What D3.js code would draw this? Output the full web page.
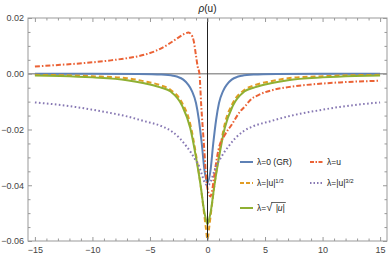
<!DOCTYPE html>
<html><head><meta charset="utf-8">
<script src="https://cdn.jsdelivr.net/npm/d3@7"></script>
<style>body{margin:0;background:#fff}svg{display:block}text{font-family:"Liberation Sans",Arial,sans-serif}</style>
</head><body><svg id="c" width="390" height="256"></svg>
<script>
const xTicks=[-15,-10,-5,0,5,10,15];
const yTicks=[0.02,0,-0.02,-0.04,-0.06];
const labels=["λ=0 (GR)","λ=|u|^1/3","λ=√|u|","λ=u","λ=|u|^3/2"];
// data
const uBlue=[-15,-10,-6,-4,-3,-2.6,-2.1,-1.7,-1.35,-1,-0.75,-0.5,-0.25,0,0.25,0.5,0.75,1,1.35,1.7,2.1,2.6,3,4,6,10,15];
const vBlue=[0,0,-0.0001,-0.0003,-0.0007,-0.0011,-0.0021,-0.0038,-0.0062,-0.0105,-0.0165,-0.025,-0.035,-0.039,-0.035,-0.025,-0.0165,-0.0105,-0.0062,-0.0038,-0.0021,-0.0011,-0.0007,-0.0003,-0.0001,0,0];
const uSym=[0,0.15,0.3,0.6,1,1.5,2.2,3.2,4.1,5.5,7,10,12.8,15];
const vOrangeHalf=[-0.0595,-0.055,-0.050,-0.040,-0.029,-0.018,-0.0105,-0.0058,-0.0041,-0.0027,-0.0016,-0.0009,-0.0005,-0.0004];
const vGreenHalf=[-0.054,-0.052,-0.049,-0.040,-0.030,-0.0195,-0.0115,-0.0064,-0.0049,-0.0034,-0.0023,-0.0013,-0.0008,-0.0006];
const uRed=[-15,-12.8,-10,-8.4,-7,-5.5,-4.5,-3.4,-2.6,-2,-1.65,-1.4,-1.2,-1,-0.85,-0.7,-0.55,-0.3,-0.1,0.1,0.25,0.4,0.6,0.95,1.5,2.1,2.84,3.3,3.7,4.5,5.7,7,8.6,10,11.5,13,15];
const vRed=[0.0026,0.0032,0.0041,0.0048,0.0056,0.0068,0.0082,0.0106,0.0128,0.0143,0.0148,0.0140,0.0118,0.0065,0.0025,0,-0.011,-0.026,-0.038,-0.043,-0.044,-0.042,-0.036,-0.0273,-0.022,-0.0183,-0.0135,-0.0115,-0.0095,-0.0075,-0.0058,-0.0048,-0.0040,-0.0035,-0.0031,-0.0028,-0.0025];
const uPurpleHalf=[0,0.25,0.5,0.75,1.05,1.4,1.8,2.4,3.1,4,5.5,7,8.5,10,11.5,13,15];
const vPurpleHalf=[-0.040,-0.039,-0.036,-0.033,-0.0309,-0.0285,-0.0262,-0.0232,-0.0207,-0.0188,-0.0170,-0.0153,-0.0140,-0.0129,-0.0119,-0.0111,-0.0103];

function sym(us,vs){const a=[];for(let i=us.length-1;i>0;i--)a.push([-us[i],vs[i]]);for(let i=0;i<us.length;i++)a.push([us[i],vs[i]]);return a;}
const series=[
 {pts:uBlue.map((u,i)=>[u,vBlue[i]]),color:"#5E81B5",dash:null,curve:d3.curveMonotoneX},
 {pts:sym(uSym,vOrangeHalf),color:"#E19C24",dash:"5,3",curve:d3.curveMonotoneX},
 {pts:sym(uSym,vGreenHalf),color:"#8FB032",dash:null,curve:d3.curveMonotoneX},
 {pts:uRed.map((u,i)=>[u,vRed[i]]),color:"#EB6235",dash:"5,2,1.5,2",curve:d3.curveMonotoneX},
 {pts:sym(uPurpleHalf,vPurpleHalf),color:"#8778B3",dash:"1.6,2.4",curve:d3.curveMonotoneX}
];

const L=28,R=387,T=18,B=241;
const x=d3.scaleLinear().domain([-15.6,15.6]).range([L,R]);
const y=d3.scaleLinear().domain([-0.06,0.02]).range([B,T]);
const svg=d3.select("#c");
svg.append("defs").append("clipPath").attr("id","cp").append("rect").attr("x",L).attr("y",T).attr("width",R-L).attr("height",B-T);

// axes lines at zero
svg.append("line").attr("x1",L).attr("x2",R).attr("y1",y(0)).attr("y2",y(0)).attr("stroke","#9a9a9a").attr("stroke-width",1.3);

// series
const g=svg.append("g").attr("clip-path","url(#cp)");
series.forEach(s=>{
  g.append("path").attr("d",d3.line().x(d=>x(d[0])).y(d=>y(d[1])).curve(s.curve)(s.pts))
   .attr("fill","none").attr("stroke",s.color).attr("stroke-width",2).attr("stroke-dasharray",s.dash);
});
svg.append("line").attr("x1",x(0)).attr("x2",x(0)).attr("y1",T).attr("y2",B).attr("stroke","#222").attr("stroke-width",1);

// frame
const fc="#999";
svg.append("rect").attr("x",L).attr("y",T).attr("width",R-L).attr("height",B-T).attr("fill","none").attr("stroke",fc).attr("stroke-width",1);
const xMinor=d3.range(-15,16,1).filter(v=>v%5!==0);
const yMinor=d3.range(-0.06,0.0201,0.005).filter(v=>Math.abs(Math.round(v*1000)%20)!==0);
const axB=d3.axisBottom(x).tickValues(xTicks).tickSize(-4).tickPadding(6).tickFormat(d=>d<0?"−"+Math.abs(d):d);
const axBm=d3.axisBottom(x).tickValues(xMinor).tickSize(-2.5).tickFormat("");
const axT=d3.axisTop(x).tickValues(xTicks).tickSize(-4).tickFormat("");
const axTm=d3.axisTop(x).tickValues(xMinor).tickSize(-2.5).tickFormat("");
const axL=d3.axisLeft(y).tickValues(yTicks).tickSize(-4).tickPadding(4).tickFormat(d=>{const s=Math.abs(d).toFixed(2);return d<-1e-9?"−"+s:s;});
const axLm=d3.axisLeft(y).tickValues(yMinor).tickSize(-2.5).tickFormat("");
const axR=d3.axisRight(y).tickValues(yTicks).tickSize(-4).tickFormat("");
const axRm=d3.axisRight(y).tickValues(yMinor).tickSize(-2.5).tickFormat("");
[[axB,`translate(0,${B})`],[axBm,`translate(0,${B})`],[axT,`translate(0,${T})`],[axTm,`translate(0,${T})`],
 [axL,`translate(${L},0)`],[axLm,`translate(${L},0)`],[axR,`translate(${R},0)`],[axRm,`translate(${R},0)`]].forEach(([a,t])=>{
  const gg=svg.append("g").attr("transform",t).call(a);
  gg.select(".domain").remove();
  gg.selectAll("line").attr("stroke",fc);
  gg.selectAll("text").attr("fill","#444").style("font-size","9px").style("font-family","'Liberation Sans',Arial,sans-serif");
});

// title
const tt=svg.append("text").attr("x",x(0)).attr("y",12).attr("text-anchor","middle").style("font-size","10px").attr("fill","#222");
tt.append("tspan").text("ρ").style("font-style","italic");
tt.append("tspan").text("(u)");

// legend
const lg=svg.append("g").style("font-size","8.5px");
const items=[
 {i:0,x:240,y:162},{i:1,x:240,y:183},{i:2,x:240,y:208},{i:3,x:310,y:162},{i:4,x:310,y:183}
];
items.forEach(it=>{
  const s=series[it.i];
  lg.append("line").attr("x1",it.x).attr("x2",it.x+13).attr("y1",it.y).attr("y2",it.y).attr("stroke",s.color).attr("stroke-width",2).attr("stroke-dasharray",s.dash?(it.i===1?"4,2":it.i===3?"4,1.5,1.5,1.5":"1.5,2"):null);
  const tx=it.x+17, ty=it.y+3;
  const t=lg.append("text").attr("x",tx).attr("y",ty).attr("fill","#222");
  if(it.i===0){t.text("λ=0 (GR)");}
  else if(it.i===3){t.text("λ=u");}
  else if(it.i===1||it.i===4){
    t.append("tspan").text("λ=|u|");
    t.append("tspan").attr("dy",-3.5).style("font-size","6px").text(it.i===1?"1/3":"3/2");
  } else {
    t.append("tspan").text("λ=");
    const r=t.append("tspan").style("font-size","11px").text("√");
    const u=t.append("tspan").attr("dx",1).style("font-style","italic").text(" |u|");
    const bb=t.node().getBBox();
    const w1=t.node().getSubStringLength(0,3);
    lg.append("line").attr("x1",tx+w1-1).attr("x2",bb.x+bb.width+1).attr("y1",ty-8.5).attr("y2",ty-8.5).attr("stroke","#222").attr("stroke-width",0.7);
  }
});
</script></body></html>
